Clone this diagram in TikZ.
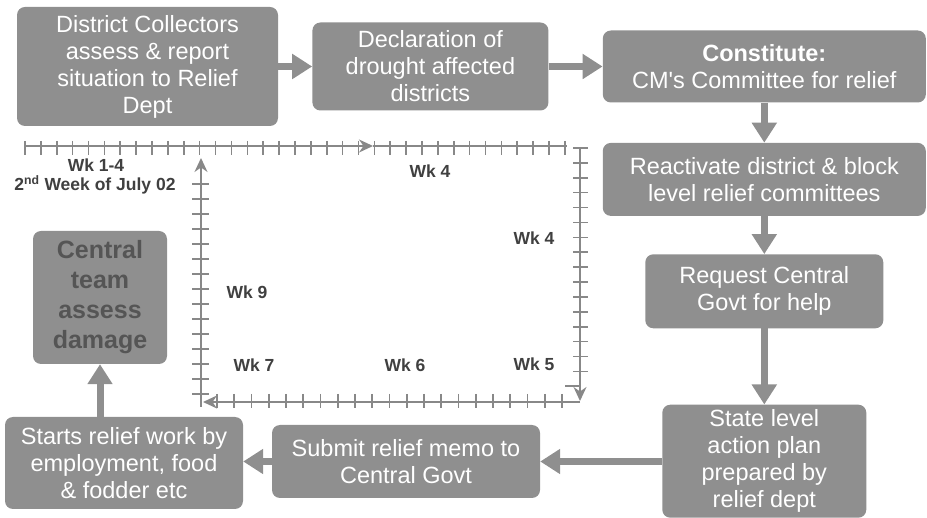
\documentclass[tikz,border=0pt]{standalone}
\usepackage{fontspec}
\setmainfont{Liberation Sans}
\usepackage{xcolor}
\usepackage{tikz}
\usetikzlibrary{positioning, arrows.meta}

\definecolor{boxgray}{RGB}{143,143,143}
\definecolor{linegray}{RGB}{136,136,136}
\definecolor{labelgray}{RGB}{64,64,64}
\definecolor{teamtext}{RGB}{85,85,85}

\begin{document}
\begin{tikzpicture}[
    x=1pt, y=-1pt,
    every node/.style={font=\fontsize{23.5}{27}\selectfont},
    stage/.style={rectangle, fill=boxgray, text=white, rounded corners=8pt, align=center, inner sep=2pt},
    team/.style={stage, text=teamtext, font=\fontsize{25}{30}\selectfont\bfseries},
    flow/.style={-{Triangle[length=20pt, width=24pt]}, line width=7pt, draw=boxgray},
    week/.style={font=\fontsize{17.5}{21}\selectfont\bfseries, text=labelgray},
    axis/.style={draw=linegray, line width=1.6pt},
    axisarrow/.style={axis, -{Stealth[length=14pt, width=13pt]}}
]
\useasboundingbox (0,0) rectangle (927,518);

% Stages
\node[stage, minimum width=261pt, minimum height=119pt] (collect) at (147.5,66.5) {District Collectors\\assess \& report\\situation to Relief\\Dept};
\node[stage, minimum width=236pt, minimum height=88pt, right=34pt of collect] (declare) {Declaration of\\drought affected\\districts};
\node[stage, minimum width=323pt, minimum height=72pt, right=54pt of declare] (constitute) {\textbf{Constitute:}\\CM\textquotesingle s Committee for relief};
\node[stage, minimum width=323pt, minimum height=73pt, below=40pt of constitute] (reactivate) {Reactivate district \& block\\level relief committees};
\node[stage, minimum width=238pt, minimum height=74pt, below=38pt of reactivate] (request) {Request Central\\Govt for help};
\node[stage, minimum width=204pt, minimum height=113pt, below=76pt of request] (plan) {State level\\action plan\\prepared by\\relief dept};
\node[stage, minimum width=268pt, minimum height=73pt] (memo) at (406,461.5) {Submit relief memo to\\Central Govt};
\node[stage, minimum width=238pt, minimum height=92pt] (starts) at (124,463) {Starts relief work by\\employment, food\\\& fodder etc};
\node[team, minimum width=134pt, minimum height=133pt] (team) at (100,297.5) {Central\\team\\assess\\damage};

% Flow arrows
\draw[flow] (collect) -- (declare);
\draw[flow] (declare) -- (constitute);
\draw[flow] (constitute) -- (reactivate);
\draw[flow] (reactivate) -- (request);
\draw[flow] (request) -- (plan);
\draw[flow] (plan.west |- memo) -- (memo);
\draw[flow] (memo.west) -- (memo.west -| starts.east);
\draw[flow] (starts.north -| team) -- (team);

% Time loop
\coordinate (topL) at (25,146);
\coordinate (topMid) at (373,146);
\coordinate (topR) at (567,146);
\coordinate (rightT) at (580,148);
\coordinate (rightB) at (580,401);
\coordinate (botR) at (580,402);
\coordinate (botL) at (203,402);
\coordinate (leftB) at (201,407);
\coordinate (leftT) at (201,158);

\draw[axisarrow] (topL) -- (topMid);
\draw[axis] (topMid) -- (topR);
\draw[axisarrow] (rightT) -- (rightB);
\draw[axisarrow] (botR) -- (botL);
\draw[axisarrow] (leftB) -- (leftT);

% Ticks
\foreach \k in {0,...,34}
    \draw[axis] (25+15.88*\k,141) -- ++(0,14);
\foreach \k in {0,...,15}
    \draw[axis] (573,148+14.9*\k) -- ++(15,0);
\draw[axis] (565,386) -- ++(15,0);
\foreach \k in {0,...,14}
    \draw[axis] (192,184+15*\k) -- ++(17,0);
\foreach \k in {0,...,20}
    \draw[axis] (217+17.25*\k,394) -- ++(0,14);

% Week labels
\node[week] (wk14) at (96,165) {Wk 1-4};
\node[week] (july) at (95,185) {2\textsuperscript{nd} Week of July 02};
\node[week] (wk4top) at (430,171) {Wk 4};
\node[week] (wk4right) at (534,238) {Wk 4};
\node[week] (wk9) at (247,292) {Wk 9};
\node[week] (wk7) at (254,365) {Wk 7};
\node[week] (wk6) at (405,365) {Wk 6};
\node[week] (wk5) at (534,364) {Wk 5};

\end{tikzpicture}
\end{document}
